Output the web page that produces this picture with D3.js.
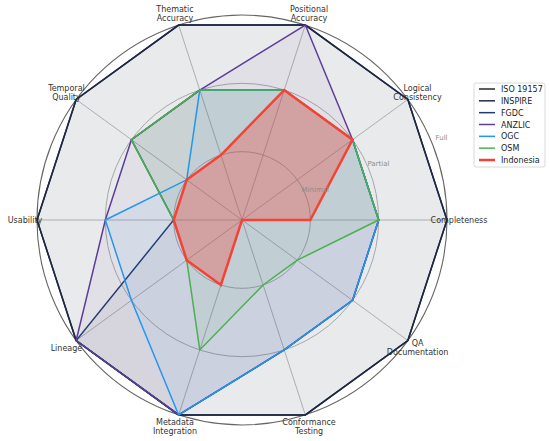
<!DOCTYPE html>
<html>
<head>
<meta charset="utf-8">
<script src="https://cdn.jsdelivr.net/npm/d3@7/dist/d3.min.js"></script>
<style>
  html, body { margin: 0; padding: 0; background: #fff; }
  svg { display: block; font-family: "DejaVu Sans", sans-serif; }
</style>
</head>
<body>
<svg id="chart" width="550" height="441"></svg>
<script>
// ---- data ----
const categories = ["Completeness", "Logical\nConsistency", "Positional\nAccuracy", "Thematic\nAccuracy",
  "Temporal\nQuality", "Usability", "Lineage", "Metadata\nIntegration", "Conformance\nTesting", "QA\nDocumentation"];
const seriesNames = ["ISO 19157", "INSPIRE", "FGDC", "ANZLIC", "OGC", "OSM", "Indonesia"];
const iso19157  = [3, 3, 3, 3, 3, 3, 3, 3, 3, 3];
const inspire   = [3, 3, 3, 3, 3, 3, 3, 3, 3, 3];
const fgdc      = [2, 2, 2, 2, 2, 1, 3, 3, 2, 2];
const anzlic    = [2, 2, 3, 2, 2, 2, 3, 3, 2, 2];
const ogc       = [2, 2, 2, 2, 1, 2, 2, 3, 2, 2];
const osm       = [2, 2, 2, 2, 2, 1, 1, 2, 1, 1];
const indonesia = [1, 2, 2, 1, 1, 1, 1, 1, 0, 0];
const levelValues = [1, 2, 3];
const levelLabels = ["Minimal", "Partial", "Full"];

const seriesValues = [iso19157, inspire, fgdc, anzlic, ogc, osm, indonesia];
const colors = ["#23263a", "#1c2846", "#1f3b6e", "#5e3c99", "#2196f3", "#4caf50", "#f44336"];
const fillColors = ["#3c4048", "#353a45", "#1f3b6e", "#5e3c99", "#2196f3", "#4caf50", "#f44336"];
const fillOpacity = [0.055, 0.055, 0.06, 0.06, 0.06, 0.07, 0.32];
const lineWidths = [1.5, 1.5, 1.5, 1.5, 1.5, 1.5, 2.5];

// ---- layout ----
const svg = d3.select("#chart");
const cx = 242, cy = 220, R = 205;
const n = categories.length;
const r = d3.scaleLinear().domain([0, 3]).range([0, R]);
const theta = d3.scaleLinear().domain([0, n]).range([0, 2 * Math.PI]);
const radialAngle = i => Math.PI / 2 - theta(i);

const g = svg.append("g").attr("transform", `translate(${cx},${cy})`);

// grid circles
g.selectAll("circle.grid").data(levelValues.slice(0, 2)).enter().append("circle")
  .attr("r", d => r(d)).attr("fill", "none").attr("stroke", "#b4b4b4").attr("stroke-width", 1);

// spokes
g.selectAll("line.spoke").data(d3.range(n)).enter().append("line")
  .attr("x1", 0).attr("y1", 0)
  .attr("x2", i => r(3) * Math.cos(theta(i)))
  .attr("y2", i => -r(3) * Math.sin(theta(i)))
  .attr("stroke", "#b4b4b4").attr("stroke-width", 0.9);

// outer spine
g.append("circle").attr("r", r(3)).attr("fill", "none").attr("stroke", "#666").attr("stroke-width", 1.1);

// series
const radar = d3.lineRadial()
  .angle((d, i) => radialAngle(i))
  .radius(d => r(d))
  .curve(d3.curveLinearClosed);

seriesValues.forEach((vals, s) => {
  g.append("path").attr("d", radar(vals))
    .attr("fill", fillColors[s]).attr("fill-opacity", fillOpacity[s]).attr("stroke", "none");
  g.append("path").attr("d", radar(vals))
    .attr("fill", "none").attr("stroke", colors[s]).attr("stroke-width", lineWidths[s])
    .attr("stroke-linejoin", "miter");
});

// radial level labels
const labAng = 22.5 * Math.PI / 180;
g.selectAll("text.level").data(levelValues).enter().append("text")
  .attr("x", d => (r(d) + 11) * Math.cos(labAng))
  .attr("y", d => -(r(d) + 11) * Math.sin(labAng) + 2.5)
  .attr("text-anchor", "middle")
  .attr("font-size", 7).attr("fill", "#8c8c8c")
  .text((d, i) => levelLabels[i]);

// category labels
const labelR = 217;
categories.forEach((c, i) => {
  const lines = c.split("\n");
  const x = labelR * Math.cos(theta(i));
  const y = -labelR * Math.sin(theta(i));
  const t = g.append("text").attr("text-anchor", "middle").attr("font-size", 8).attr("fill", "#333");
  const lh = 9.5;
  lines.forEach((ln, k) => {
    t.append("tspan").attr("x", x)
      .attr("y", y + (k - (lines.length - 1) / 2) * lh + 3)
      .text(ln);
  });
});

// legend
const lg = svg.append("g");
lg.append("rect").attr("x", 474).attr("y", 83).attr("width", 71).attr("height", 84)
  .attr("rx", 2).attr("fill", "#fff").attr("fill-opacity", 0.85)
  .attr("stroke", "#cfcfcf").attr("stroke-width", 0.8);
const ly = d3.scaleLinear().domain([0, seriesNames.length - 1]).range([89, 160]);
seriesNames.forEach((name, s) => {
  lg.append("line").attr("x1", 479).attr("x2", 495).attr("y1", ly(s)).attr("y2", ly(s))
    .attr("stroke", colors[s]).attr("stroke-width", s === 6 ? 2.5 : 1.5);
  lg.append("text").attr("x", 501).attr("y", ly(s) + 3).attr("font-size", 8).attr("fill", "#222").text(name);
});
</script>
</body>
</html>
